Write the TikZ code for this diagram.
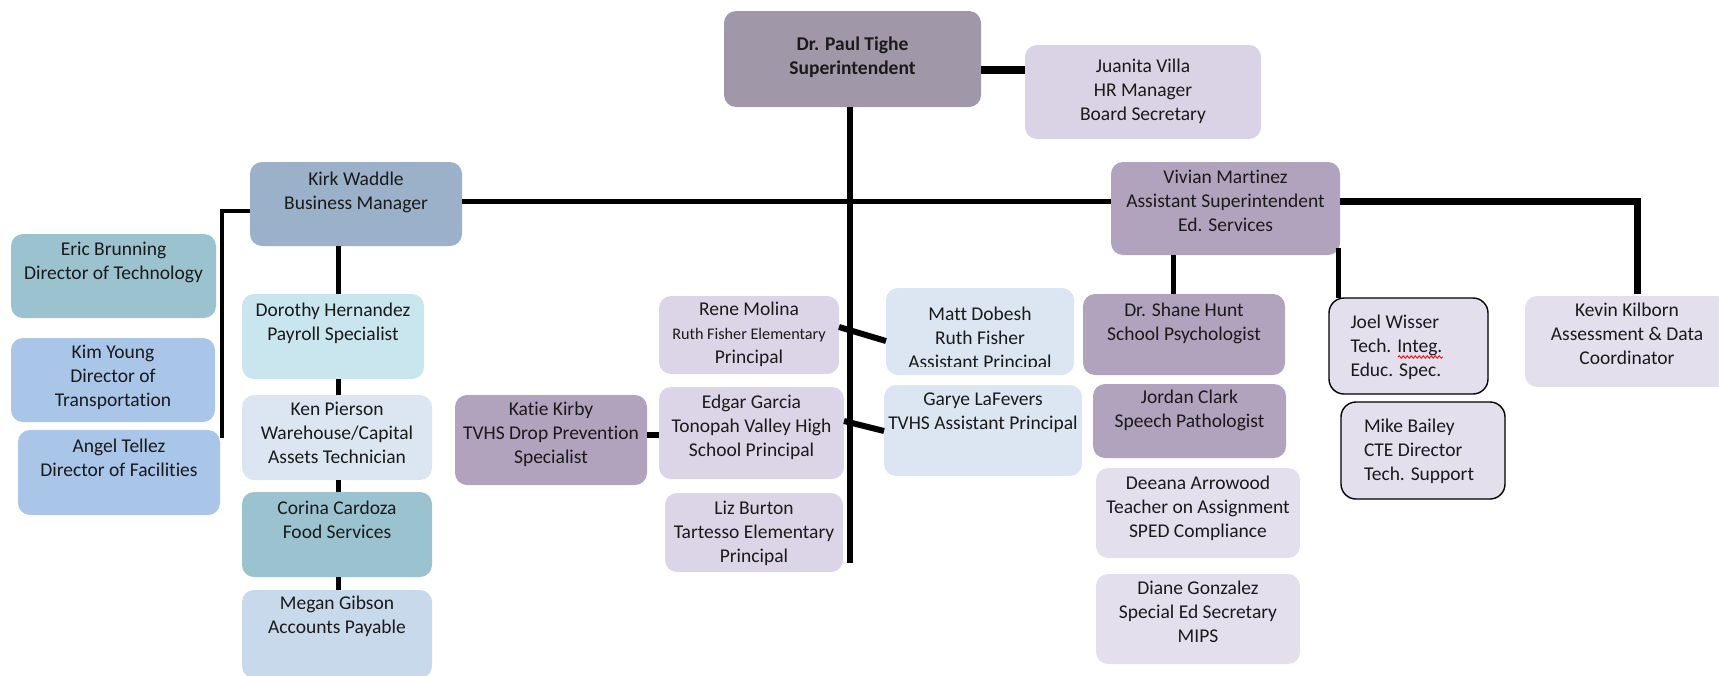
\documentclass[tikz,border=0pt]{standalone}
\usepackage{fontspec}
\setmainfont{Carlito}[Ligatures=NoCommon]
\usetikzlibrary{calc,decorations.pathmorphing}
\definecolor{cTighe}{HTML}{A098A8}
\definecolor{cJuan}{HTML}{DAD3E5}
\definecolor{cKirk}{HTML}{9BB0C9}
\definecolor{cViv}{HTML}{B1A3BD}
\definecolor{cTeal}{HTML}{9BC3CF}
\definecolor{cBlue}{HTML}{A9C5E8}
\definecolor{cDor}{HTML}{C9E6EE}
\definecolor{cPale}{HTML}{DCE6F2}
\definecolor{cMeg}{HTML}{C9D9EC}
\definecolor{cPrin}{HTML}{DCD5E7}
\definecolor{cLav}{HTML}{E4DFEC}
\definecolor{cText}{HTML}{1A1A1A}
\newcommand\ctext[2]{\raisebox{\dimexpr#1pt-4.8pt\relax}[0pt][0pt]{\makebox[0pt]{\begin{tabular}[c]{@{}c@{}}#2\end{tabular}}}}
\newcommand\ltext[3]{\raisebox{\dimexpr#1pt-4.8pt\relax}[0pt][0pt]{\makebox[0pt][l]{\hspace{#2pt}\begin{tabular}[c]{@{}l@{}}#3\end{tabular}}}}
\tikzset{
  ob/.style={rounded corners=12pt, inner sep=0pt, outer sep=0pt, draw=none,
    text=cText, font=\fontsize{19.5}{24}\selectfont},
  obl/.style={ob, draw=black, line width=1.4pt, rounded corners=15pt},
  con/.style={draw=black, line width=5pt},
}
\begin{document}
\begin{tikzpicture}[x=1pt,y=-1pt]
\useasboundingbox (0,0) rectangle (1719,675);
% top
\node[ob, fill=cTighe, minimum width=257, minimum height=96] (tighe) at (852.5,59) {\ctext{0.5}{\textbf{Dr. Paul Tighe}\\\textbf{Superintendent}}};
\node[ob, fill=cJuan, minimum width=236, minimum height=94] (juanita) at (1143,92) {\ctext{0}{Juanita Villa\\HR Manager\\Board Secretary}};
\node[ob, fill=cKirk, minimum width=212, minimum height=84] (kirk) at (356,204) {\ctext{11}{Kirk Waddle\\Business Manager}};
\node[ob, fill=cViv, minimum width=229, minimum height=93] (vivian) at (1225.5,208.5) {\ctext{5}{Vivian Martinez\\Assistant Superintendent\\Ed. Services}};
% left column
\node[ob, fill=cTeal, minimum width=205, minimum height=84] (eric) at (113.5,276) {\ctext{13}{Eric Brunning\\Director of Technology}};
\node[ob, fill=cBlue, minimum width=204, minimum height=84] (kim) at (113,380) {\ctext{2}{Kim Young\\Director of\\Transportation}};
\node[ob, fill=cBlue, minimum width=202, minimum height=85] (angel) at (119,472.5) {\ctext{12}{Angel Tellez\\Director of Facilities}};
% business column
\node[ob, fill=cDor, minimum width=182, minimum height=85] (dorothy) at (333,336.5) {\ctext{12}{Dorothy Hernandez\\Payroll Specialist}};
\node[ob, fill=cPale, minimum width=190, minimum height=85] (ken) at (337,437.5) {\ctext{2}{Ken Pierson\\Warehouse/Capital\\Assets Technician}};
\node[ob, fill=cTeal, minimum width=190, minimum height=85] (corina) at (337,534.5) {\ctext{12}{Corina Cardoza\\Food Services}};
\node[ob, fill=cMeg, minimum width=190, minimum height=88] (megan) at (337,634) {\ctext{17}{Megan Gibson\\Accounts Payable}};
% principals
\node[ob, fill=cViv, minimum width=192, minimum height=90] (katie) at (551,440) {\ctext{5}{Katie Kirby\\TVHS Drop Prevention\\Specialist}};
\node[ob, fill=cPrin, minimum width=180, minimum height=78] (rene) at (749,335) {\ctext{0}{Rene Molina\\{\fontsize{16.2}{24}\selectfont Ruth Fisher Elementary}\\Principal}};
\node[ob, fill=cPrin, minimum width=185, minimum height=92] (edgar) at (751.5,433) {\ctext{5}{Edgar Garcia\\Tonopah Valley High\\School Principal}};
\node[ob, fill=cPrin, minimum width=178, minimum height=79] (liz) at (754,532.5) {\ctext{-1.5}{Liz Burton\\Tartesso Elementary\\Principal}};
\node[ob, fill=cPale, minimum width=188, minimum height=87] (matt) at (980,331.5) {\ctext{-9}{Matt Dobesh\\Ruth Fisher\\Assistant Principal}};
% the text frame of this box cuts its last line
\fill[cPale] (900,367) rectangle (1060,374);
\node[ob, fill=cPale, minimum width=198, minimum height=91] (garye) at (983,430.5) {\ctext{17.5}{Garye LaFevers\\TVHS Assistant Principal}};
% ed services
\node[ob, fill=cViv, minimum width=202, minimum height=81] (shane) at (1184,334.5) {\ctext{10.5}{Dr. Shane Hunt\\School Psychologist}};
\node[ob, fill=cViv, minimum width=193, minimum height=74] (jordan) at (1189.5,421) {\ctext{10}{Jordan Clark\\Speech Pathologist}};
\node[ob, fill=cLav, minimum width=204, minimum height=90] (deeana) at (1198,513) {\ctext{4}{Deeana Arrowood\\Teacher on Assignment\\SPED Compliance}};
\node[ob, fill=cLav, minimum width=204, minimum height=90] (diane) at (1198,619) {\ctext{5}{Diane Gonzalez\\Special Ed Secretary\\MIPS}};
\node[obl, fill=cLav, minimum width=159, minimum height=96] (joel) at (1408.5,346) {\ltext{-2}{-58}{Joel Wisser\\Tech. Integ.\\Educ. Spec.}};
\node[obl, fill=cLav, minimum width=164, minimum height=97] (mike) at (1423,450.5) {\ltext{-1.5}{-59}{Mike Bailey\\CTE Director\\Tech. Support}};
\node[ob, fill=cLav, minimum width=204, minimum height=91] (kevin) at (1627,341.5) {\ctext{5}{Kevin Kilborn\\Assessment \& Data\\Coordinator}};
\draw[red, line width=0.8pt, decorate, decoration={snake, amplitude=1.3pt, segment length=4pt}] (1398,357) -- (1443,357);
% connectors
\draw[con, line width=8pt] (tighe.east |- 0,70) -- (juanita.west |- 0,70);
\coordinate (trunkend) at (850,563);
\draw[con, line width=6pt] (tighe.south -| trunkend) -- (trunkend);
\draw[con] (kirk.east |- 0,201) -- (vivian.west |- 0,201);
\coordinate (leftend) at (222,438);
\draw[con, line width=4.5pt] (kirk.west |- 0,211) -| (leftend);
\draw[con] (kirk.south -| 338,0) -- (dorothy.north -| 338,0);
\draw[con] (dorothy.south -| 338,0) -- (ken.north -| 338,0);
\draw[con] (ken.south -| 338,0) -- (corina.north -| 338,0);
\draw[con] (corina.south -| 338,0) -- (megan.north -| 338,0);
\draw[con, line width=6pt] (katie.east |- 0,435) -- (edgar.west |- 0,435);
\draw[con, line width=6pt] (rene.east |- 0,327) -- (matt.west |- 0,341);
\draw[con, line width=6pt] (edgar.east |- 0,421) -- (garye.west |- 0,431);
\draw[con] (vivian.south -| 1173,0) -- (shane.north -| 1173,0);
\draw[con] ($(vivian.south -| 1338,0)+(0,-7)$) -- (joel.north -| 1338,0);
\draw[con, line width=7pt] (vivian.east |- 0,201) -| ($(kevin.north -| 1637,0)+(0,-2)$);
\end{tikzpicture}
\end{document}
